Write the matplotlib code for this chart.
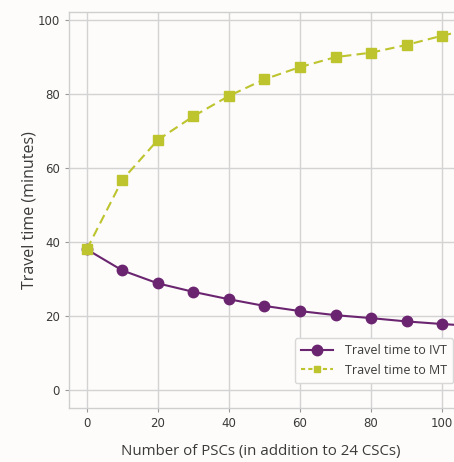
import matplotlib

matplotlib.use("Agg")
import matplotlib.pyplot as plt
from matplotlib.lines import Line2D

# 数据：附加 PSC 数量与平均转运时间（分钟）
n_pscs = [0, 10, 20, 30, 40, 50, 60, 70, 80, 90, 100, 110]
ivt_time = [38.0, 32.3, 28.8, 26.5, 24.5, 22.7, 21.3, 20.2, 19.4, 18.5, 17.8, 17.2]
mt_time = [38.0, 56.8, 67.6, 74.0, 79.5, 84.0, 87.3, 90.0, 91.2, 93.3, 95.8, 98.0]
x_ticks = [0, 20, 40, 60, 80, 100]
y_ticks = [0, 20, 40, 60, 80, 100]

PURPLE = "#6b2570"
OLIVE = "#bdc42e"
GRID = "#d3d3d3"
BG = "#fdfcfa"
TEXT = "#3a3a3a"

fig = plt.figure(figsize=(4.54, 4.62), dpi=100, facecolor=BG)
ax = fig.add_axes([0.152, 0.117, 0.861, 0.857], facecolor=BG)

ax.plot(n_pscs, ivt_time, color=PURPLE, linewidth=1.5, marker="o", markersize=7.5)
ax.plot(n_pscs, mt_time, color=OLIVE, linewidth=1.5, linestyle=(0, (4.5, 2.5)),
        marker="s", markersize=7)

ax.set_xlim(-5, 105)
ax.set_ylim(-4.9, 102.2)
ax.set_xticks(x_ticks)
ax.set_yticks(y_ticks)
ax.grid(True, color=GRID, linewidth=1.0)
ax.set_axisbelow(True)
for spine in ax.spines.values():
    spine.set_color("#cfcfcf")
    spine.set_linewidth(1.0)
ax.tick_params(labelsize=8.5, colors="#999999", labelcolor=TEXT, length=3, width=0.8)

ax.set_xlabel("Number of PSCs (in addition to 24 CSCs)",
              family=["Open Sans", "DejaVu Sans"], size=10.8, color=TEXT)
ax.set_ylabel("Travel time (minutes)",
              family=["Open Sans", "DejaVu Sans"], size=11.5, color=TEXT)
ax.xaxis.set_label_coords(0.49, -0.092)
ax.yaxis.set_label_coords(-0.08, 0.5)

handles = [
    Line2D([], [], color=PURPLE, linewidth=1.5, marker="o", markersize=7.5),
    Line2D([], [], color=OLIVE, linewidth=1.5, linestyle=(0, (2, 1.5)), marker="s", markersize=5),
]
legend = ax.legend(
    handles,
    ["Travel time to IVT", "Travel time to MT"],
    loc="lower right",
    bbox_to_anchor=(453 / 454, 1 - 383 / 462),
    bbox_transform=fig.transFigure,
    borderaxespad=0,
    frameon=True,
    fancybox=True,
    framealpha=1.0,
    edgecolor="#d8d8d8",
    facecolor=BG,
    prop={"family": ["Open Sans", "DejaVu Sans"], "size": 9},
    handlelength=2.6,
    handletextpad=0.9,
    borderpad=0.5,
    labelspacing=0.5,
)
for text in legend.get_texts():
    text.set_color(TEXT)

fig.savefig("out.png", dpi=100, facecolor=BG)
plt.close(fig)
